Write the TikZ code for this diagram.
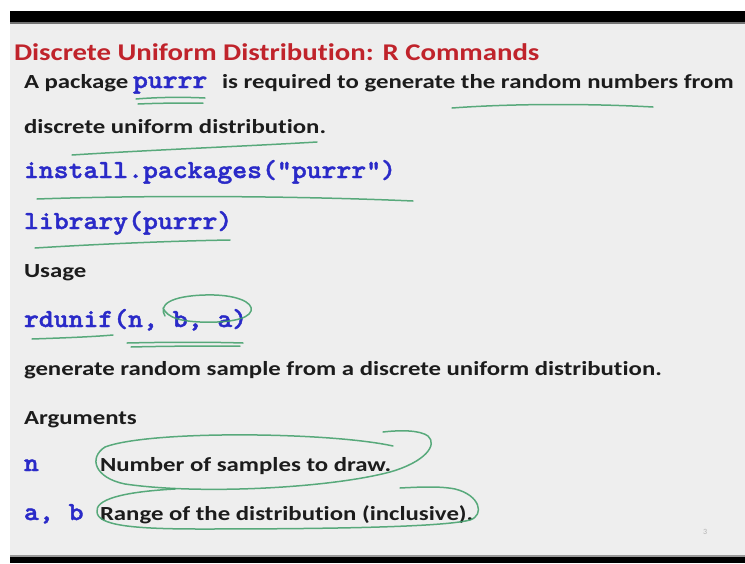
\documentclass[tikz,border=0pt]{standalone}
\usepackage{fontspec}
\setmainfont{Carlito}[Ligatures=NoCommon]
\newfontfamily\codefnt{lmmonolt10-bold.otf}[FakeBold=1.6]
\newcommand{\wb}[1]{\scalebox{1.24}[1]{#1}}
\newcommand{\wt}[1]{\scalebox{1.2}[1]{#1}}
\newcommand{\wc}[1]{\scalebox{1.09}[1]{#1}}
\begin{document}
\begin{tikzpicture}[x=1pt,y=1pt,
  txt/.style={anchor=base west,inner sep=0pt,outer sep=0pt},
  body/.style={txt,text=bodyc,font=\fontsize{20}{24}\selectfont\bfseries},
  code/.style={txt,text=codec,font=\fontsize{26}{28}\selectfont\codefnt},
  pen/.style={draw=penc,line width=1.5pt,opacity=0.85,line cap=round,line join=round}]
\definecolor{bg}{HTML}{EEEEEE}
\definecolor{bodyc}{HTML}{1C1C1C}
\definecolor{codec}{HTML}{2A2AC8}
\definecolor{titlec}{HTML}{C0232B}
\definecolor{penc}{HTML}{3E9E68}
% frame
\useasboundingbox (0,0) rectangle (745,-563);
\fill[white] (0,0) rectangle (745,-563);
\fill[bg] (10,-22) rectangle (745,-556);
\fill[black] (10,-11) rectangle (745,-22);
\fill[black!55] (10,-22) rectangle (745,-24);
\fill[black] (10,-557) rectangle (745,-563);
\fill[black!40] (10,-555) rectangle (745,-557);
% texts
\node[txt,text=titlec,font=\fontsize{24}{28}\selectfont\bfseries] (title) at (14,-60) {\wt{Discrete Uniform Distribution: R Commands}};
\node[body] (l1a) at (24,-88) {\wb{A package}};
\node[code] (l1b) at (133,-88) {\wc{purrr}};
\node[body] (l1c) at (222,-88) {\wb{is required to generate the random numbers from}};
\node[body] (l2) at (24,-133) {\wb{discrete uniform distribution.}};
\node[code] (inst) at (24,-178) {\wc{install.packages("purrr")}};
\node[code] (lib) at (24,-229) {\wc{library(purrr)}};
\node[body] (usage) at (24,-277) {\wb{Usage}};
\node[code] (rdu) at (24,-327) {\wc{rdunif(n, b, a)}};
\node[body] (gen) at (24,-375) {\wb{generate random sample from a discrete uniform distribution.}};
\node[body] (args) at (24,-424) {\wb{Arguments}};
\node[code] (an) at (24,-471) {\wc{n}};
\node[body] (dn) at (100,-471) {\wb{Number of samples to draw.}};
\node[code] (aab) at (24,-520) {\wc{a, b}};
\node[body] (dab) at (100,-520) {\wb{Range of the distribution (inclusive).}};
\node[txt,text=black!30,font=\fontsize{8}{9}\selectfont] (pg) at (703,-534) {3};
% pen annotations
\draw[pen] (136,-99) .. controls (160,-97) and (185,-97) .. (205,-98);
\draw[pen] (138,-104) .. controls (160,-103) and (185,-103) .. (203,-103);
\draw[pen] (452,-108) .. controls (520,-103) and (600,-104) .. (653,-107);
\draw[pen] (72,-155) .. controls (150,-150) and (250,-146) .. (317,-142);
\draw[pen] (37,-199) .. controls (150,-195) and (300,-196) .. (413,-201);
\draw[pen] (35,-248) .. controls (100,-244) and (170,-241) .. (230,-240);
\draw[pen] (32,-339) .. controls (60,-338) and (90,-337) .. (113,-335);
\draw[pen] (127,-343) .. controls (170,-342) and (210,-342) .. (243,-343);
\draw[pen] (131,-347) .. controls (170,-346) and (210,-346) .. (240,-346);
\draw[pen] (165,-316) .. controls (158,-305) and (170,-296) .. (205,-295)
  .. controls (235,-294) and (254,-302) .. (251,-311)
  .. controls (248,-320) and (225,-323) .. (200,-322)
  .. controls (180,-321) and (168,-318) .. (163,-308);
\draw[pen] (393,-446) .. controls (330,-432) and (150,-430) .. (105,-447)
  .. controls (88,-458) and (95,-478) .. (125,-484)
  .. controls (200,-495) and (330,-488) .. (390,-472)
  .. controls (425,-462) and (438,-445) .. (428,-436)
  .. controls (420,-430) and (400,-430) .. (383,-432);
\draw[pen] (175,-489) .. controls (120,-492) and (95,-500) .. (97,-512)
  .. controls (98,-525) and (130,-529) .. (200,-529)
  .. controls (300,-529) and (440,-528) .. (470,-520)
  .. controls (485,-515) and (480,-495) .. (455,-489)
  .. controls (440,-486) and (420,-487) .. (400,-488);
\end{tikzpicture}
\end{document}
